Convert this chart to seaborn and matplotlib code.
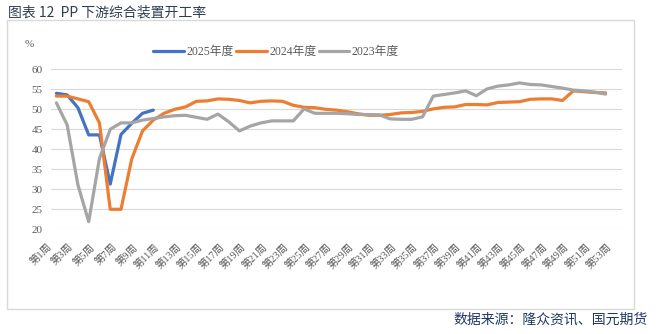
import matplotlib
matplotlib.use("Agg")
import matplotlib.pyplot as plt
import matplotlib.transforms as mtransforms
from matplotlib.patches import Rectangle
import pandas as pd
import seaborn as sns

# Weekly operating rate of PP downstream plants (%)
weeks = list(range(1, 54))
week_labels = [f"第{w}周" for w in weeks]
series_names = ["2025年度", "2024年度", "2023年度"]
series_colors = ["#4472C4", "#ED7D31", "#A5A5A5"]

rate_2025 = [54.0, 53.6, 50.4, 43.6, 43.6, 31.3, 43.7, 46.5, 49.0, 49.8]

rate_2024 = [53.3, 53.3, 52.6, 51.9, 46.6, 25.0, 25.0, 37.6, 44.6, 47.3,
             49.0, 50.0, 50.6, 52.0, 52.1, 52.6, 52.5, 52.2, 51.6, 52.0,
             52.1, 52.0, 51.0, 50.5, 50.4, 50.0, 49.8, 49.4, 48.9, 48.5,
             48.5, 48.7, 49.1, 49.2, 49.5, 50.1, 50.5, 50.6, 51.2, 51.2,
             51.1, 51.7, 51.8, 51.9, 52.5, 52.6, 52.6, 52.2, 54.6, 54.4,
             54.2, 54.1]

rate_2023 = [51.6, 46.1, 31.1, 21.9, 37.7, 45.0, 46.6, 46.6, 47.3, 47.7,
             48.1, 48.4, 48.5, 48.0, 47.5, 48.8, 46.9, 44.6, 45.8, 46.6,
             47.1, 47.1, 47.1, 50.1, 49.0, 49.0, 49.0, 48.9, 48.7, 48.7,
             48.6, 47.6, 47.5, 47.5, 48.1, 53.3, 53.7, 54.1, 54.6, 53.4,
             55.1, 55.8, 56.1, 56.6, 56.2, 56.1, 55.7, 55.3, 54.8, 54.6,
             54.3, 53.8]

sns.set_theme(style="white")
plt.rcParams["font.family"] = ["Liberation Serif", "Noto Sans CJK SC", "DejaVu Sans"]

records = []
for name, vals in zip(series_names, [rate_2025, rate_2024, rate_2023]):
    for w, v in zip(weeks, vals):
        records.append({"week": w, "rate": v, "year": name})
df = pd.DataFrame(records)

W, H = 659, 334
fig = plt.figure(figsize=(W / 100, H / 100), dpi=100)
fig.patch.set_facecolor("white")

# outer chart frame
fig.patches.append(Rectangle((7 / W, 1 - 309 / H), 627 / W, 289 / H,
                             transform=fig.transFigure, fill=False,
                             edgecolor="#D9D9D9", linewidth=1.0))

ax = fig.add_axes([51 / W, 1 - 229.3 / H, 570.7 / W, 160 / H])
sns.lineplot(data=df, x="week", y="rate", hue="year", hue_order=series_names,
             palette=dict(zip(series_names, series_colors)), linewidth=2.3,
             errorbar=None, ax=ax)

ax.set_xlim(0.5, 53.5)
ax.set_ylim(20, 60)
ax.set_yticks(range(20, 61, 5))
ax.grid(axis="y", color="#D9D9D9", linewidth=0.8)
ax.grid(axis="x", visible=False)
for s in ax.spines.values():
    s.set_visible(False)
ax.set_xlabel("")
ax.set_ylabel("")

ax.tick_params(axis="y", length=0, pad=6, labelsize=8, labelcolor="#595959")
ax.tick_params(axis="x", length=0, pad=9, labelsize=7.5, labelcolor="#595959")
ax.set_xticks(weeks[::2])
ax.set_xticklabels(week_labels[::2], rotation=45, ha="right", va="top",
                   rotation_mode="anchor")
shift = mtransforms.ScaledTranslation(-10 / 100, 0, fig.dpi_scale_trans)
for lab in ax.get_xticklabels():
    lab.set_transform(lab.get_transform() + shift)

sns.move_legend(ax, "center", bbox_to_anchor=((276 - 51) / 570.7, (229.3 - 52) / 160),
                ncol=3, frameon=False, title=None, fontsize=8.5,
                handlelength=2.6, handletextpad=0.2, columnspacing=0.2)
for t in ax.get_legend().get_texts():
    t.set_color("#595959")
for lh in ax.get_legend().get_lines():
    lh.set_linewidth(2.3)

fig.text(25 / W, 1 - 47 / H, "%", fontsize=8, color="#595959")
fig.text(8 / W, 1 - 13 / H, "图表 12  PP 下游综合装置开工率", fontsize=10,
         color="#2F3E55", family=["Noto Sans CJK SC", "DejaVu Sans"],
         ha="left", va="center")
fig.text(648 / W, 1 - 320 / H, "数据来源：隆众资讯、国元期货", fontsize=10,
         color="#203864", family=["Noto Sans CJK SC", "DejaVu Sans"],
         ha="right", va="center")

fig.savefig("out.png", dpi=100)
